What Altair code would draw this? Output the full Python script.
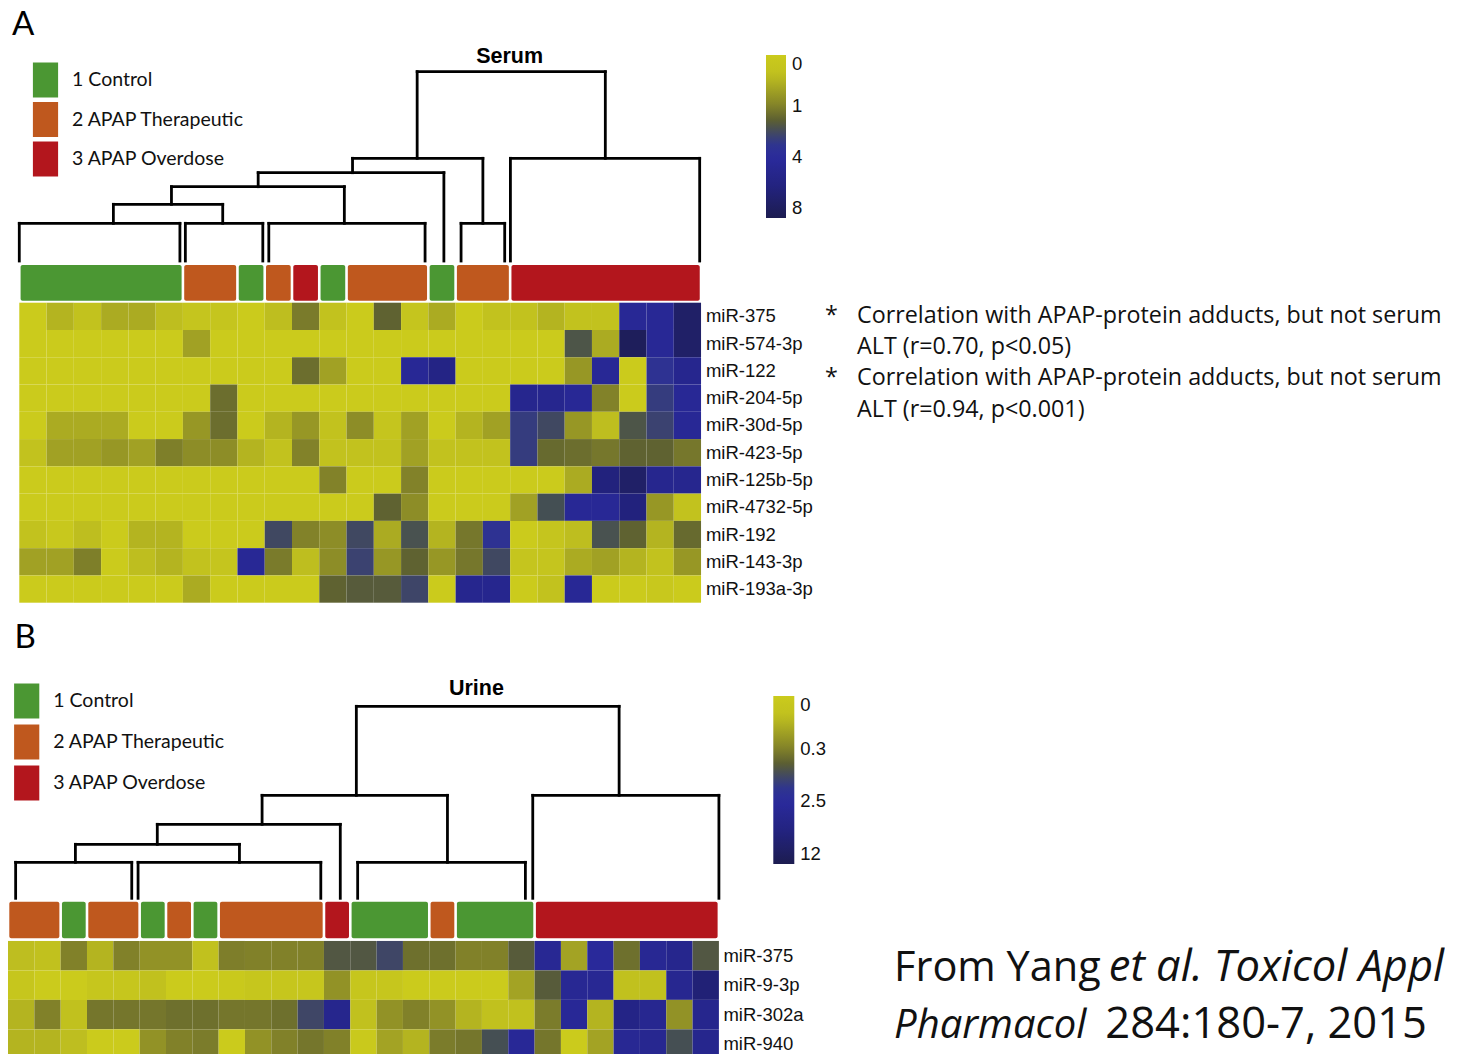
import altair as alt
import numpy as np
import pandas as pd

# ---------------- data ----------------
GROUP_NAMES = ["1 Control", "2 APAP Therapeutic", "3 APAP Overdose"]
GROUP_COLORS = ["#4b9733", "#bf581e", "#b3161d"]

# colour ramp, position along the colour bar (0 = top) -> colour
HEAT_STOPS = [0.0, 0.12, 0.31, 0.40, 0.47, 0.54, 0.624, 0.80, 1.0]
HEAT_COLORS = ["#cbcb1c", "#c0c01f", "#838328", "#5c5f32", "#434a5c",
               "#30378c", "#2a2a9d", "#232380", "#1c1c50"]

serum_mirs = ["miR-375", "miR-574-3p", "miR-122", "miR-204-5p", "miR-30d-5p",
              "miR-423-5p", "miR-125b-5p", "miR-4732-5p", "miR-192",
              "miR-143-3p", "miR-193a-3p"]
serum_groups = [1, 1, 1, 1, 1, 1, 2, 2, 1, 2, 3, 1, 2, 2, 2, 1, 2, 2,
                3, 3, 3, 3, 3, 3, 3]
serum_values = [
    [0, 0.5, 0.3, 0.6, 0.6, 0.4, 0.2, 0.2, 0, 0.4, 1.2, 0.3, 0, 1.8, 0.2, 0.6, 0, 0.3, 0.3, 0.5, 0.3, 0.3, 4.5, 4.5, 7],
    [0, 0, 0, 0, 0, 0, 0.7, 0, 0, 0, 0, 0, 0, 0, 0, 0, 0, 0, 0, 0, 2.2, 0.6, 7.5, 4.5, 7],
    [0, 0, 0, 0, 0, 0, 0, 0, 0, 0, 1.5, 0.7, 0, 0, 4.5, 5.5, 0, 0, 0, 0, 0.8, 4.5, 0, 3.5, 5],
    [0, 0, 0, 0, 0, 0, 0, 1.5, 0, 0, 0, 0, 0, 0, 0, 0, 0, 0, 5, 5, 4.5, 1.0, 0, 3.0, 4.5],
    [0, 0.6, 0.6, 0.6, 0, 0, 0.8, 1.5, 0, 0.5, 0.8, 0.3, 0.9, 0.2, 0.7, 0, 0.5, 0.7, 3.0, 2.6, 0.8, 0.4, 2.2, 2.8, 4.5],
    [0.3, 0.7, 0.7, 0.8, 0.7, 1.1, 0.9, 0.9, 0.5, 0.3, 1.0, 0.3, 0.3, 0.3, 0.7, 0.3, 0.3, 0.3, 3.0, 1.6, 1.5, 1.3, 1.8, 1.8, 1.3],
    [0, 0, 0, 0, 0, 0, 0, 0, 0, 0, 0, 1.0, 0, 0, 1.0, 0, 0, 0, 0, 0, 0.6, 6, 7, 5, 5],
    [0, 0, 0, 0, 0, 0, 0, 0, 0, 0, 0, 0, 0, 1.8, 0.9, 0, 0, 0, 0.7, 2.4, 4.5, 4.5, 6, 0.8, 0.3],
    [0.3, 0.1, 0.4, 0, 0.5, 0.5, 0, 0, 0, 2.6, 1.0, 0.9, 2.6, 0.6, 2.3, 0.5, 1.3, 3.5, 0, 0.2, 0.4, 2.3, 1.8, 0.5, 1.6],
    [0.7, 0.7, 1.1, 0, 0.4, 0.5, 0.3, 0.2, 4.5, 1.2, 0.4, 0.9, 2.8, 0.8, 1.8, 0.8, 1.3, 2.6, 0.2, 0.2, 0.6, 0.7, 0.5, 0.3, 0.8],
    [0, 0, 0, 0, 0, 0, 0.6, 0, 0, 0, 0, 1.8, 2.0, 2.0, 2.7, 0, 5, 5, 0, 0.3, 4.5, 0, 0, 0.1, 0],
]
serum_scale_values = [0, 1, 4, 8]
serum_scale_labels = ["0", "1", "4", "8"]
serum_scale_pos = [0.0, 0.31, 0.624, 1.0]
# dendrogram: clusters (name, left leg, right leg, height, attach x), in column units
serum_clusters = [
    ("A", 0.0, 5.89, 37.7, 3.45),
    ("B", 6.09, 8.93, 37.7, 7.46),
    ("C", 9.15, 14.88, 37.7, 11.92),
    ("D", 16.2, 17.8, 37.7, 17.0),
    ("E", 18.01, 24.95, 102.7, 21.49),
]
serum_leaves = [("L16", 15.57)]
serum_merges = [
    ("n1", "A", "B", 56.7, 5.58),
    ("n2", "n1", "C", 74.3, 8.76),
    ("n3", "n2", "L16", 88.3, 12.22),
    ("n4", "n3", "D", 102.7, 14.59),
    ("root", "n4", "E", 189.3, 18.0),
]

urine_mirs = ["miR-375", "miR-9-3p", "miR-302a", "miR-940"]
urine_groups = [2, 2, 1, 2, 2, 1, 2, 1, 2, 2, 2, 2, 3, 1, 1, 1, 2, 1, 1, 1,
                3, 3, 3, 3, 3, 3, 3]
urine_values = [
    [0.12, 0.1, 0.3, 0.15, 0.3, 0.25, 0.25, 0.1, 0.35, 0.3, 0.3, 0.3, 1.1, 1.1, 1.5, 0.6, 0.6, 0.3, 0.3, 1.0, 4, 0.2, 3, 0.6, 4, 5, 1.1],
    [0.05, 0, 0, 0.05, 0.05, 0.1, 0, 0, 0.02, 0.05, 0.05, 0.05, 0.25, 0.05, 0.05, 0, 0, 0, 0, 0.2, 1.0, 4, 4, 0.1, 0.1, 4.5, 8],
    [0.15, 0.3, 0.1, 0.5, 0.5, 0.5, 0.6, 0.6, 0.5, 0.5, 0.6, 1.5, 5, 0.1, 0.25, 0.3, 0.25, 0.15, 0.1, 0.1, 0.4, 3.5, 0.15, 6, 4.5, 0.25, 5],
    [0.15, 0.15, 0.12, 0, 0, 0.25, 0.3, 0.4, 0, 0.25, 0.3, 0.5, 0.3, 0.02, 0.2, 0.15, 0.4, 0.5, 1.3, 3.5, 0.5, 0, 0.2, 4, 4.5, 1.3, 5],
]
urine_scale_values = [0, 0.3, 2.5, 12]
urine_scale_labels = ["0", "0.3", "2.5", "12"]
urine_scale_pos = [0.0, 0.315, 0.625, 1.0]
urine_clusters = [
    ("U1", 0.29, 4.70, 36, 2.56),
    ("U2", 4.94, 11.88, 36, 8.79),
    ("U3", 13.28, 19.65, 36, 16.69),
    ("U4", 19.93, 27.0, 103, 23.21),
]
urine_leaves = [("L13", 12.62)]
urine_merges = [
    ("N1", "U1", "U2", 54, 5.67),
    ("N2", "N1", "L13", 74, 9.65),
    ("N3", "N2", "U3", 103, 13.23),
    ("root", "N3", "U4", 192, 18.2),
]

notes = ["Correlation with APAP-protein adducts, but not serum",
         "ALT (r=0.70, p<0.05)",
         "Correlation with APAP-protein adducts, but not serum",
         "ALT (r=0.94, p<0.001)"]
note_stars = ["*", "", "*", ""]
cite_line1 = ("From Yang", "et al. Toxicol Appl")
cite_line2 = ("Pharmacol", "284:180-7, 2015")

# ---------------- helpers ----------------
LABEL_FONT = "Liberation Sans"
TEXT_FONT = "Lato"
NOTE_FONT = "Open Sans"


def fine_ramp(stops, colors, n=61):
    """Densify the colour ramp (linear in RGB)."""
    rgb = np.array([[int(c[i:i + 2], 16) for i in (1, 3, 5)] for c in colors], float)
    pos = np.linspace(0, 1, n)
    out = []
    for p in pos:
        v = [int(round(np.interp(p, stops, rgb[:, k]))) for k in range(3)]
        out.append("#%02x%02x%02x" % tuple(v))
    return [float(p) for p in pos], out


RAMP_POS, RAMP_COL = fine_ramp(HEAT_STOPS, HEAT_COLORS)
FILL_DOMAIN = [round(1 - p, 6) for p in reversed(RAMP_POS)]
FILL_RANGE = list(reversed(RAMP_COL))

NO_AXIS = alt.Axis(labels=False, ticks=False, domain=False, grid=False, title=None)


def dendro_segments(clusters, leaves, merges):
    pos, hgt, segs = {}, {}, []
    for name, x0, x1, h, att in clusters:
        segs += [(x0, x0, 0, h), (x1, x1, 0, h), (x0, x1, h, h)]
        pos[name], hgt[name] = att, h
    for name, x in leaves:
        pos[name], hgt[name] = x, 0
    for name, a, b, h, att in merges:
        segs += [(pos[a], pos[a], hgt[a], h), (pos[b], pos[b], hgt[b], h),
                 (pos[a], pos[b], h, h)]
        pos[name], hgt[name] = att, h
    return pd.DataFrame(segs, columns=["x", "x2", "y", "y2"])


def group_runs(groups, gap):
    """Runs of equal group; 'gap' (column units) leaves a white seam between runs."""
    runs, start = [], 0
    for i in range(1, len(groups) + 1):
        if i == len(groups) or groups[i] != groups[start]:
            runs.append((start + gap, i - gap, GROUP_NAMES[groups[start] - 1]))
            start = i
    return pd.DataFrame(runs, columns=["x0", "x1", "group"])


def heat_cells(values, sv, sp):
    rows = []
    for r, row in enumerate(values):
        for c, v in enumerate(row):
            rows.append((c, c + 1, r, r + 1, v, 1 - float(np.interp(v, sv, sp))))
    return pd.DataFrame(rows, columns=["x0", "x1", "y0", "y1", "v", "u"])


def dendro_panel(clusters, leaves, merges, xdom, width, height,
                 title, title_x, title_h, letter, letter_x, letter_h, letter_base):
    xs = alt.Scale(domain=xdom, nice=False, zero=False)
    ys = alt.Scale(domain=[0, height], nice=False, zero=False)
    segs = dendro_segments(clusters, leaves, merges)
    lines = alt.Chart(segs).mark_rule(color="black", strokeWidth=2.8,
                                      strokeCap="square").encode(
        x=alt.X("x:Q", scale=xs, axis=None), x2="x2:Q",
        y=alt.Y("y:Q", scale=ys, axis=NO_AXIS), y2="y2:Q")
    one = pd.DataFrame({"k": [0]})
    ttl = alt.Chart(one).mark_text(font=LABEL_FONT, fontWeight="bold", fontSize=21.5,
                                   align="center", baseline="alphabetic",
                                   color="black").encode(
        x=alt.datum(title_x, scale=xs), y=alt.datum(title_h, scale=ys),
        text=alt.value(title))
    let = alt.Chart(one).mark_text(font=TEXT_FONT, fontSize=33, align="left",
                                   baseline=letter_base, color="black").encode(
        x=alt.datum(letter_x, scale=xs), y=alt.datum(letter_h, scale=ys),
        text=alt.value(letter))
    return alt.layer(lines, ttl, let).properties(width=width, height=height)


def heat_panel(mirs, groups, values, sv, sp, slabels, xdom, width, height, ytop,
               bar_top, bar_bot, bar_gap, label_dx, gl, cl, extra):
    xs = alt.Scale(domain=xdom, nice=False, zero=False)
    ys = alt.Scale(domain=[ytop, len(mirs)], nice=False, zero=False, reverse=True)
    upos = [round(1 - p, 6) for p in sp]
    order = sorted(range(len(upos)), key=lambda i: upos[i])
    parts = []
    for k in range(len(order) - 1):
        i, j = order[k], order[k + 1]
        parts.append("datum.value < %.4f ? '%s'" % ((upos[i] + upos[j]) / 2, slabels[i]))
    lab_expr = " : ".join(parts) + " : '%s'" % slabels[order[-1]]
    cells = heat_cells(values, sv, sp)
    rect = alt.Chart(cells).mark_rect().encode(
        x=alt.X("x0:Q", scale=xs, axis=None), x2="x1:Q",
        y=alt.Y("y0:Q", scale=ys, axis=NO_AXIS), y2="y1:Q",
        fill=alt.Fill("u:Q", scale=alt.Scale(domain=FILL_DOMAIN, range=FILL_RANGE,
                                             nice=False, zero=False),
                      legend=alt.Legend(
                          title=None, orient="none", legendX=cl[0], legendY=cl[1],
                          direction="vertical", gradientLength=cl[2],
                          gradientThickness=cl[3], values=sorted(upos),
                          labelExpr=lab_expr, labelFont=LABEL_FONT,
                          labelFontSize=18.5, labelColor="#111", labelOffset=6,
                          padding=0, gradientStrokeWidth=0, labelOverlap=False)))
    runs = group_runs(groups, bar_gap)
    bars = alt.Chart(runs).mark_rect(cornerRadius=2).encode(
        x=alt.X("x0:Q", scale=xs, axis=None), x2="x1:Q",
        y=alt.datum(bar_top, scale=ys), y2=alt.datum(bar_bot),
        color=alt.Color("group:N", scale=alt.Scale(domain=GROUP_NAMES,
                                                   range=GROUP_COLORS),
                        legend=alt.Legend(
                            title=None, orient="none", legendX=gl[0], legendY=gl[1],
                            direction="vertical",
                            symbolType="M-0.72,-1H0.72V1H-0.72Z", symbolSize=1225,
                            symbolStrokeWidth=0, symbolOpacity=1,
                            labelFont=TEXT_FONT, labelFontSize=19.5,
                            labelColor="#111", labelOffset=gl[2], rowPadding=gl[3],
                            padding=0, labelLimit=400)))
    lab_df = pd.DataFrame({"x": [len(values[0]) + label_dx] * len(mirs),
                           "y": [i + 0.5 for i in range(len(mirs))], "t": mirs})
    labels = alt.Chart(lab_df).mark_text(font=LABEL_FONT, fontSize=18.5, color="#111",
                                         align="left", baseline="middle").encode(
        x=alt.X("x:Q", scale=xs, axis=None), y=alt.Y("y:Q", scale=ys),
        text="t:N")
    layers = [rect, bars, labels]
    for df, kw in extra:
        layers.append(alt.Chart(df).mark_text(color="#111", baseline="alphabetic",
                                              **kw).encode(
            x=alt.X("x:Q", scale=xs, axis=None), y=alt.Y("y:Q", scale=ys),
            text="t:N"))
    return alt.layer(*layers).properties(width=width, height=height)


# ---------------- layout ----------------
S_CELL = 27.27
S_XDOM = [-0.414, 25]
S_W = (S_XDOM[1] - S_XDOM[0]) * S_CELL
U_CELL = 26.33
U_XDOM = [0, 27]
U_W = 27 * U_CELL

serum_dendro = dendro_panel(serum_clusters, serum_leaves, serum_merges, S_XDOM, S_W,
                            253, "Serum", 17.98, 198.3, "A", -0.27, 236.5, "middle")
note_y = [0.733, 1.881, 3.03, 4.19]
note_df = pd.DataFrame({"x": [30.72] * 4, "y": note_y, "t": notes})
star_df = pd.DataFrame({"x": [29.55] * 4, "y": note_y, "t": note_stars})
serum_heat = heat_panel(
    serum_mirs, serum_groups, serum_values, serum_scale_values, serum_scale_pos,
    serum_scale_labels, S_XDOM, S_W, 341.7, -1.529, -1.382, -0.073, 1.3 / S_CELL, 0.18,
    gl=(20, -198.5, 9, 4.5), cl=(758, -206, 163, 20),
    extra=[(note_df, dict(font=NOTE_FONT, fontSize=23.3, align="left")),
           (star_df, dict(font=NOTE_FONT, fontSize=23.3, align="left"))])

urine_dendro = dendro_panel(urine_clusters, urine_leaves, urine_merges, U_XDOM, U_W,
                            295.3, "Urine", 17.79, 203, "B", 0.25, 250, "alphabetic")
cite_l = pd.DataFrame({"x": [33.65, 33.65], "y": [1.356, 3.278],
                       "t": [cite_line1[0], cite_line2[0]]})
cite_r = pd.DataFrame({"x": [54.54, 53.89], "y": [1.356, 3.278],
                       "t": [cite_line1[1], cite_line2[1]]})
urine_heat = heat_panel(
    urine_mirs, urine_groups, urine_values, urine_scale_values, urine_scale_pos,
    urine_scale_labels, U_XDOM, U_W, 159.8, -1.424, -1.332, -0.0915, 1.3 / U_CELL, 0.17,
    gl=(1.2, -215.5, 9, 6), cl=(765.3, -203, 168, 21),
    extra=[(cite_l.iloc[[0]], dict(font=NOTE_FONT, fontSize=41.5, align="left")),
           (cite_l.iloc[[1]], dict(font=NOTE_FONT, fontSize=40, align="left",
                                   fontStyle="italic")),
           (cite_r.iloc[[0]], dict(font=NOTE_FONT, fontSize=43.5, align="right",
                                   fontStyle="italic")),
           (cite_r.iloc[[1]], dict(font=NOTE_FONT, fontSize=43.5, align="right"))])

chart = alt.vconcat(serum_dendro, serum_heat, urine_dendro, urine_heat,
                    spacing=0, bounds="flush").resolve_scale(
    x="independent", y="independent", color="independent", fill="independent"
).properties(padding=0).configure(background="white").configure_view(
    stroke=None, strokeWidth=0)

chart.save("out.html", embed_options={"renderer": "svg", "actions": False})
